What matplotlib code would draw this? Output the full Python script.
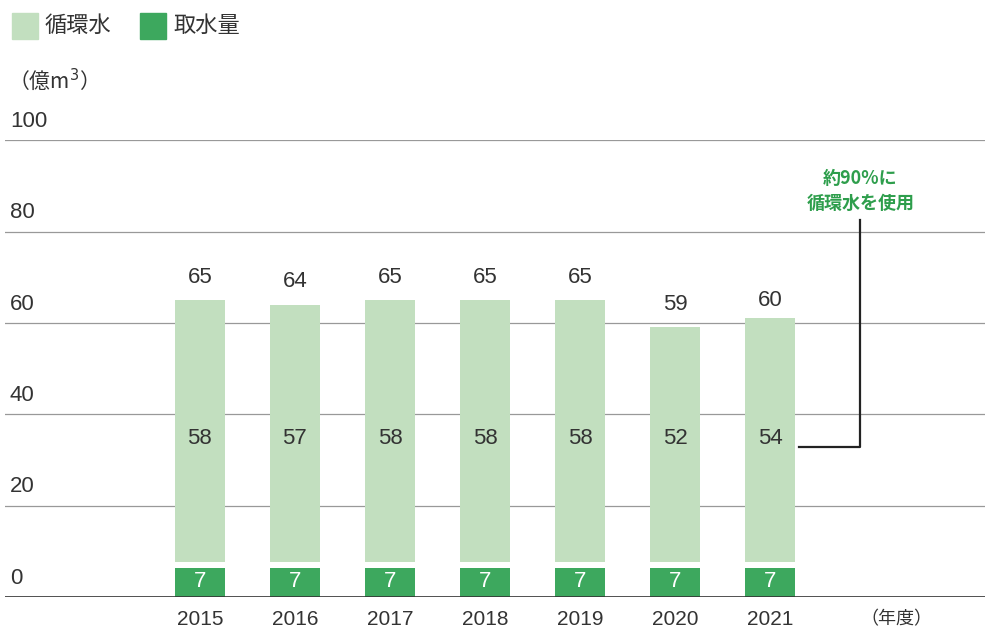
import matplotlib
matplotlib.use("Agg")
import matplotlib.pyplot as plt

plt.rcParams["font.family"] = ["Noto Sans CJK JP"]
NUM = "Liberation Sans"

years = ["2015", "2016", "2017", "2018", "2019", "2020", "2021"]
intake = [7, 7, 7, 7, 7, 7, 7]
recycled = [58, 57, 58, 58, 58, 52, 54]
totals = [65, 64, 65, 65, 65, 59, 60]
yticks = [0, 20, 40, 60, 80, 100]

LIGHT = "#c2dfbf"
DARK = "#3da85e"
GREEN_TXT = "#2e9e4c"

fig = plt.figure(figsize=(10, 6.43), dpi=100)
ax = fig.add_axes([0.005, 0.0715, 0.98, 0.7105])
ax.set_xlim(-2.05, 8.26)
ax.set_ylim(0, 100)
for s in ax.spines.values():
    s.set_visible(False)
ax.set_xticks([]); ax.set_yticks([])

for t in yticks:
    ax.axhline(t, color="#999999" if t else "#333333", lw=0.9 if t else 1.2, zorder=0 if t else 3)
    ax.text(-2.0, t + 1.8, str(t), fontsize=16, family=NUM, color="#333333", va="bottom", ha="left")

gap = 0.6
x = list(range(len(years)))
ax.bar(x, [v - gap for v in intake], width=0.52, color=DARK, linewidth=0, zorder=2)
ax.bar(x, [r - gap for r in recycled], bottom=[v + gap for v in intake], width=0.52,
       color=LIGHT, linewidth=0, zorder=2)
for i in x:
    ax.text(i, intake[i] / 2, str(intake[i]), color="white", fontsize=16, family=NUM,
            ha="center", va="center", zorder=4)
    ax.text(i, 34.8, str(recycled[i]), color="#333333", fontsize=16, family=NUM,
            ha="center", va="center", zorder=4)
    ax.text(i, totals[i] + 2.7, str(totals[i]), color="#333333", fontsize=16, family=NUM,
            ha="center", va="bottom")
    ax.text(i, -2.8, years[i], color="#333333", fontsize=15, family=NUM, ha="center", va="top")
ax.text(6.95, -3, "（年度）", color="#333333", fontsize=13, ha="left", va="top", clip_on=False)

ax.plot([6.3, 6.95, 6.95], [32.8, 32.8, 82.5], color="#222222", lw=1.6, zorder=3, clip_on=False)
ax.text(6.95, 84, "約90%に\n循環水を使用", color=GREEN_TXT, fontsize=13, fontweight="bold",
        ha="center", va="bottom", linespacing=1.4)

fig.patches.append(plt.Rectangle((0.012, 0.94), 0.026, 0.04, color=LIGHT, transform=fig.transFigure))
fig.text(0.045, 0.96, "循環水", fontsize=16, va="center", color="#333333")
fig.patches.append(plt.Rectangle((0.14, 0.94), 0.026, 0.04, color=DARK, transform=fig.transFigure))
fig.text(0.173, 0.96, "取水量", fontsize=16, va="center", color="#333333")
fig.text(0.008, 0.875, "（億m$^3$）", fontsize=15, va="center", color="#333333")

fig.savefig("out.png", dpi=100)
